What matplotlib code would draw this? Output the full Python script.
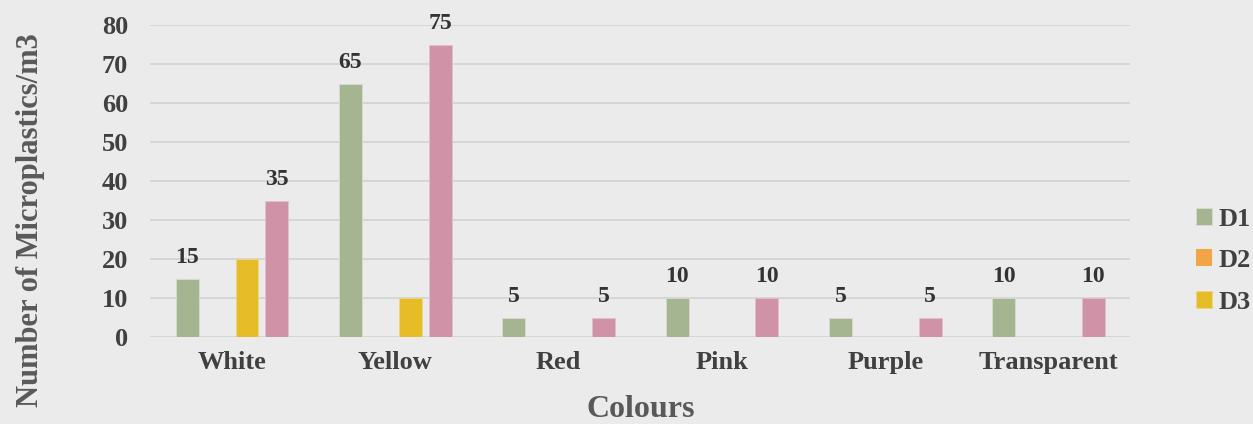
import matplotlib.pyplot as plt
import numpy as np

categories = ['White', 'Yellow', 'Red', 'Pink', 'Purple', 'Transparent']
d1 = [15, 65, 5, 10, 5, 10]
d2 = [0, 0, 0, 0, 0, 0]
d3 = [20, 10, 0, 0, 0, 0]
d4 = [35, 75, 5, 10, 5, 10]

plt.rcParams['font.family'] = 'Liberation Serif'
plt.rcParams['font.weight'] = 'bold'

fig = plt.figure(figsize=(12.53, 4.24), dpi=100)
fig.patch.set_facecolor('#ebebeb')
ax = fig.add_axes([0.12, 0.205, 0.782, 0.736])
ax.set_facecolor('#ebebeb')

x = np.arange(len(categories))
step = 0.183
w = 0.14
b1 = ax.bar(x - 1.5 * step, d1, w, color='#a5b592', label='D1', edgecolor='#d8dccf', linewidth=0.6)
b2 = ax.bar(x - 0.5 * step, d2, w, color='#f3a447', label='D2')
b3 = ax.bar(x + 0.5 * step, d3, w, color='#e7bc29', label='D3', edgecolor='#ecd68a', linewidth=0.6)
b4 = ax.bar(x + 1.5 * step, d4, w, color='#d092a7', label='_D4', edgecolor='#e0c0cb', linewidth=0.6)

# value labels on D1 and D4 only
for bars in (b1, b4):
    for r in bars:
        ax.text(r.get_x() + r.get_width() / 2, r.get_height() + 2.8, f'{int(r.get_height())}',
                ha='center', va='bottom', fontsize=17, fontweight='bold', color='#333333')

ax.set_ylim(0, 80)
ax.set_xlim(-0.5, len(categories) - 0.5)
ax.set_yticks(np.arange(0, 81, 10))
ax.set_xticks(x)
ax.set_xticklabels(categories)
ax.tick_params(axis='both', length=0, labelsize=19, colors='#404040')
ax.tick_params(axis='y', pad=16)
ax.tick_params(axis='x', pad=10)
ax.grid(axis='y', color='#d4d4d4', linewidth=1.3)
ax.set_axisbelow(True)
for s in ax.spines.values():
    s.set_visible(False)

ax.set_xlabel('Colours', fontsize=23, fontweight='bold', color='#595959')
ax.xaxis.set_label_coords(0.5, -0.185)
ax.set_ylabel('Number of Microplastics/m3', fontsize=22, fontweight='bold', color='#595959')
ax.yaxis.set_label_coords(-0.108, 0.375)

leg = ax.legend(loc='center left', bbox_to_anchor=(1.067, 0.245), frameon=False, fontsize=19,
                handlelength=0.6, handleheight=0.6, handletextpad=0.25, labelspacing=0.7,
                borderaxespad=0, borderpad=0)
for t in leg.get_texts():
    t.set_color('#404040')

plt.savefig('out.png', dpi=100, facecolor=fig.get_facecolor())
